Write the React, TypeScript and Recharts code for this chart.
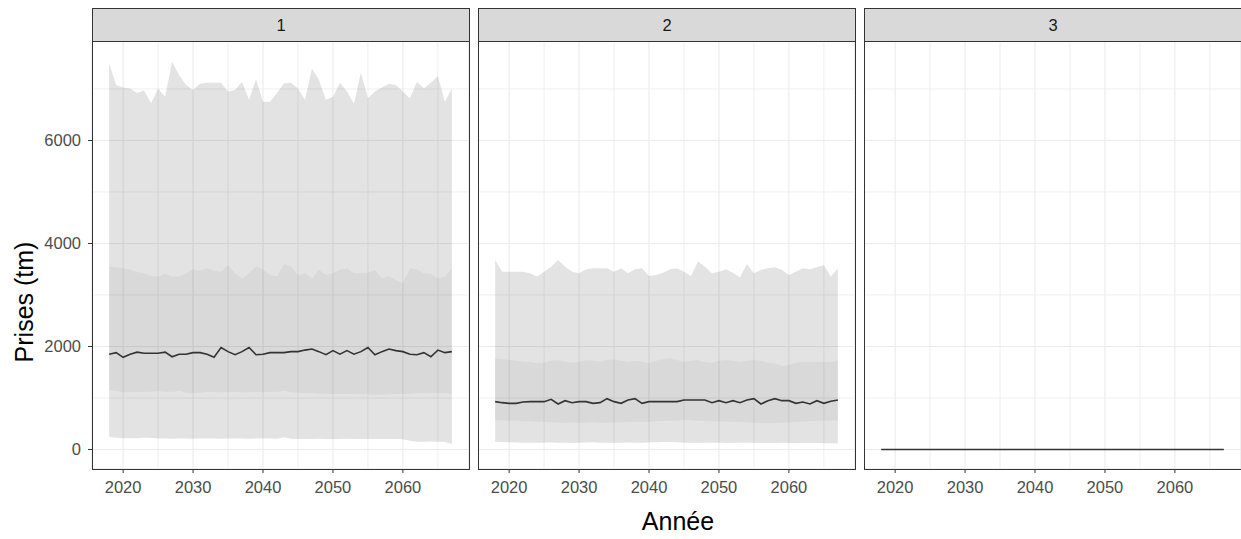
import { ComposedChart, Area, Line, XAxis, YAxis, CartesianGrid } from "recharts"

const years = [
  2018, 2019, 2020, 2021, 2022, 2023, 2024, 2025, 2026, 2027,
  2028, 2029, 2030, 2031, 2032, 2033, 2034, 2035, 2036, 2037,
  2038, 2039, 2040, 2041, 2042, 2043, 2044, 2045, 2046, 2047,
  2048, 2049, 2050, 2051, 2052, 2053, 2054, 2055, 2056, 2057,
  2058, 2059, 2060, 2061, 2062, 2063, 2064, 2065, 2066, 2067,
]

const xTicks = [2020, 2030, 2040, 2050, 2060]
const xMinor = [2025, 2035, 2045, 2055, 2065]
const yTicks = [0, 2000, 4000, 6000]
const yMinor = [1000, 3000, 5000, 7000]
const panelLabels = ["1", "2", "3"]

// panel 1
const p1Hi = [
  7500, 7080, 7030, 7010, 6920, 6970, 6730, 7010, 6850, 7530,
  7270, 7080, 6980, 7100, 7120, 7120, 7120, 6950, 6980, 7140,
  6790, 7190, 6750, 6750, 6920, 7110, 7120, 7010, 6790, 7400,
  7180, 6790, 6850, 7120, 6950, 6720, 7320, 6820, 6950, 7030,
  7100, 7080, 6950, 6820, 7140, 7010, 7120, 7250, 6750, 7010,
]
const p1Q75 = [
  3550, 3540, 3520, 3490, 3450, 3420, 3370, 3360, 3410, 3360,
  3360, 3420, 3500, 3470, 3520, 3470, 3450, 3580, 3420, 3320,
  3420, 3560, 3500, 3390, 3360, 3600, 3560, 3390, 3420, 3320,
  3490, 3390, 3420, 3490, 3520, 3420, 3420, 3430, 3490, 3320,
  3370, 3290, 3230, 3520, 3500, 3420, 3410, 3320, 3360, 3520,
]
const p1Mid = [
  1850, 1880, 1790, 1850, 1890, 1870, 1870, 1870, 1890, 1800,
  1850, 1850, 1880, 1880, 1850, 1790, 1980, 1900, 1840, 1900,
  1980, 1840, 1850, 1880, 1880, 1880, 1900, 1900, 1930, 1950,
  1900, 1840, 1920, 1850, 1920, 1850, 1900, 1980, 1840, 1900,
  1950, 1920, 1900, 1850, 1840, 1880, 1800, 1930, 1880, 1900,
]
const p1Q25 = [
  1155, 1142, 1110, 1110, 1117, 1117, 1123, 1136, 1123, 1117,
  1142, 1104, 1091, 1104, 1123, 1117, 1110, 1110, 1117, 1110,
  1110, 1117, 1110, 1123, 1117, 1142, 1110, 1104, 1091, 1091,
  1084, 1078, 1078, 1078, 1078, 1078, 1071, 1071, 1065, 1065,
  1071, 1078, 1078, 1078, 1091, 1091, 1097, 1091, 1091, 1078,
]
const p1Lo = [
  249, 228, 218, 216, 220, 230, 224, 214, 211, 209,
  213, 211, 208, 211, 214, 211, 209, 211, 213, 211,
  208, 211, 214, 211, 209, 236, 206, 204, 202, 204,
  206, 204, 201, 204, 206, 204, 202, 204, 205, 204,
  202, 204, 200, 172, 152, 150, 153, 151, 146, 107,
]

// panel 2
const p2Hi = [
  3680, 3450, 3450, 3450, 3450, 3420, 3360, 3450, 3550, 3680,
  3550, 3450, 3420, 3500, 3520, 3520, 3520, 3450, 3520, 3420,
  3500, 3520, 3370, 3390, 3430, 3500, 3520, 3450, 3370, 3650,
  3550, 3420, 3450, 3500, 3430, 3340, 3600, 3420, 3490, 3520,
  3540, 3490, 3390, 3450, 3520, 3500, 3540, 3580, 3360, 3520,
]
const p2Q75 = [
  1770, 1757, 1738, 1725, 1706, 1699, 1673, 1686, 1725, 1738,
  1706, 1686, 1699, 1738, 1725, 1706, 1738, 1751, 1725, 1699,
  1725, 1706, 1673, 1725, 1751, 1770, 1738, 1706, 1725, 1738,
  1699, 1686, 1725, 1738, 1718, 1699, 1725, 1738, 1725, 1686,
  1673, 1621, 1641, 1686, 1699, 1706, 1699, 1706, 1699, 1725,
]
const p2Mid = [
  929, 909, 896, 896, 922, 929, 929, 929, 974, 883,
  948, 909, 929, 929, 896, 909, 987, 929, 896, 961,
  987, 896, 929, 929, 929, 929, 929, 961, 961, 961,
  961, 909, 948, 909, 948, 909, 961, 987, 883, 948,
  987, 948, 948, 896, 922, 883, 948, 896, 935, 961,
]
const p2Q25 = [
  573, 567, 560, 556, 550, 547, 540, 538, 530, 524,
  521, 525, 519, 521, 528, 521, 517, 523, 530, 534,
  538, 540, 536, 547, 552, 556, 563, 573, 567, 560,
  556, 547, 541, 540, 538, 534, 528, 521, 515, 508,
  513, 521, 528, 534, 540, 547, 552, 556, 563, 570,
]
const p2Lo = [
  152, 146, 139, 136, 133, 133, 130, 133, 136, 133,
  130, 128, 133, 136, 139, 133, 130, 128, 133, 136,
  133, 130, 136, 139, 143, 146, 139, 133, 130, 128,
  130, 133, 130, 128, 126, 130, 133, 130, 128, 126,
  128, 130, 126, 123, 126, 128, 126, 123, 120, 118,
]

// panel 3
const p3Mid = [
  0, 0, 0, 0, 0, 0, 0, 0, 0, 0,
  0, 0, 0, 0, 0, 0, 0, 0, 0, 0,
  0, 0, 0, 0, 0, 0, 0, 0, 0, 0,
  0, 0, 0, 0, 0, 0, 0, 0, 0, 0,
  0, 0, 0, 0, 0, 0, 0, 0, 0, 0,
]

type Row = { year: number; outer?: [number, number]; inner?: [number, number]; mid: number }

function buildRows(mid: number[], lo?: number[], q25?: number[], q75?: number[], hi?: number[]): Row[] {
  return years.map((year, i) => ({
    year,
    outer: lo && hi ? [lo[i], hi[i]] : undefined,
    inner: q25 && q75 ? [q25[i], q75[i]] : undefined,
    mid: mid[i],
  }))
}

const panels = [
  { label: panelLabels[0], rows: buildRows(p1Mid, p1Lo, p1Q25, p1Q75, p1Hi) },
  { label: panelLabels[1], rows: buildRows(p2Mid, p2Lo, p2Q25, p2Q75, p2Hi) },
  { label: panelLabels[2], rows: buildRows(p3Mid) },
]

const FONT = "'Liberation Sans', Arial, Helvetica, sans-serif"
const PANEL_LEFT = [92, 478, 864]
const PANEL_W = 377
const PANEL_TOP = 41
const PANEL_H = 428
const Y_AXIS_W = 92
const X_DOMAIN: [number, number] = [2015.55, 2069.45]
const Y_DOMAIN: [number, number] = [-379, 7932]

const tickStyle = { fill: "#4D4D4D", fontSize: 16.5, fontFamily: FONT }

function Panel({ rows, index }: { rows: Row[]; index: number }) {
  const showY = index === 0
  const left = showY ? PANEL_LEFT[0] - Y_AXIS_W : PANEL_LEFT[index]
  const width = showY ? PANEL_W + Y_AXIS_W : PANEL_W
  const height = 539 - PANEL_TOP

  return (
    <div style={{ position: "absolute", left, top: PANEL_TOP }}>
      <ComposedChart
        width={width}
        height={height}
        data={rows}
        margin={{ top: 0, right: 0, bottom: 0, left: 0 }}
      >
        <XAxis xAxisId="minor" dataKey="year" type="number" domain={X_DOMAIN} ticks={xMinor} hide allowDataOverflow />
        <YAxis yAxisId="minor" type="number" domain={Y_DOMAIN} ticks={yMinor} hide allowDataOverflow />
        <CartesianGrid xAxisId="minor" yAxisId="minor" stroke="#EDEDED" strokeWidth={0.9} />
        <XAxis
          dataKey="year"
          type="number"
          domain={X_DOMAIN}
          ticks={xTicks}
          allowDataOverflow
          height={70}
          axisLine={false}
          tickLine={{ stroke: "#333333" }}
          tickSize={4}
          tickMargin={8}
          tick={tickStyle}
        />
        <YAxis
          type="number"
          domain={Y_DOMAIN}
          ticks={yTicks}
          allowDataOverflow
          hide={!showY}
          width={Y_AXIS_W}
          axisLine={false}
          tickLine={{ stroke: "#333333" }}
          tickSize={4}
          tickMargin={7}
          tick={tickStyle}
        />
        <CartesianGrid stroke="#EBEBEB" strokeWidth={1.1} />
        <Area
          dataKey="outer"
          type="linear"
          stroke="none"
          fill="#000000"
          fillOpacity={0.11}
          isAnimationActive={false}
          connectNulls
        />
        <Area
          dataKey="inner"
          type="linear"
          stroke="none"
          fill="#000000"
          fillOpacity={0.045}
          isAnimationActive={false}
          connectNulls
        />
        <Line
          dataKey="mid"
          type="linear"
          stroke="#333333"
          strokeWidth={1.6}
          dot={false}
          isAnimationActive={false}
        />
      </ComposedChart>
    </div>
  )
}

export default function App() {
  return (
    <div style={{ position: "relative", width: 1241, height: 539, background: "#fff", fontFamily: FONT, overflow: "hidden" }}>
      <style>{`body { margin: 0; }`}</style>
      {panels.map((p, i) => (
        <div key={p.label}>
          <Panel rows={p.rows} index={i} />
          <div
            style={{
              position: "absolute",
              left: PANEL_LEFT[i],
              top: 8,
              width: PANEL_W + 1,
              height: PANEL_TOP - 8 + 1,
              boxSizing: "border-box",
              background: "#D9D9D9",
              border: "1px solid #333333",
              display: "flex",
              alignItems: "center",
              justifyContent: "center",
              fontSize: 16.5,
              color: "#1A1A1A",
            }}
          >
            {p.label}
          </div>
          <div
            style={{
              position: "absolute",
              left: PANEL_LEFT[i],
              top: PANEL_TOP,
              width: PANEL_W + 1,
              height: PANEL_H + 1,
              boxSizing: "border-box",
              border: "1px solid #333333",
              pointerEvents: "none",
            }}
          />
        </div>
      ))}
      <div
        style={{
          position: "absolute",
          left: 24.3,
          top: 302,
          transform: "translate(-50%, -50%) rotate(-90deg)",
          fontSize: 25,
          lineHeight: "25px",
          whiteSpace: "nowrap",
          color: "#000",
        }}
      >
        Prises (tm)
      </div>
      <div
        style={{
          position: "absolute",
          left: 678,
          top: 509,
          transform: "translateX(-50%)",
          fontSize: 25,
          lineHeight: "25px",
          whiteSpace: "nowrap",
          color: "#000",
        }}
      >
        Année
      </div>
    </div>
  )
}
